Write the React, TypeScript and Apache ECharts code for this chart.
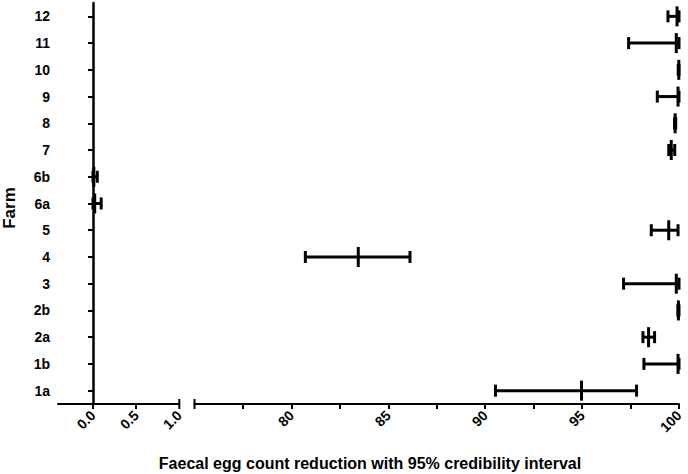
import React, { useEffect, useRef } from "react";
import * as echarts from "echarts";

const farms = ["1a", "1b", "2a", "2b", "3", "4", "5", "6a", "6b", "7", "8", "9", "10", "11", "12"];
const means = [94.97, 99.95, 98.43, 99.97, 99.86, 83.45, 99.47, 0.02, 0.01, 99.6, 99.8, 99.95, 99.99, 99.86, 99.9];
const lows = [90.53, 98.19, 98.14, 99.94, 97.14, 80.72, 98.57, 0.0, 0.0, 99.47, 99.77, 98.88, 99.96, 97.4, 99.43];
const highs = [97.81, 100, 98.74, 100, 100, 86.12, 99.95, 0.095, 0.05, 99.78, 99.83, 100, 100, 100, 100];

const leftTicks = [0, 0.5];
const leftLabels = [0, 0.5, 1];
const rightTicks = [77.5, 80, 82.5, 85, 87.5, 90, 92.5, 95, 97.5, 100];
const rightLabels = [80, 85, 90, 95, 100];

const FONT = "'Liberation Sans', Arial, sans-serif";

export default function App() {
  const ref = useRef<HTMLDivElement>(null);
  useEffect(() => {
    document.body.style.margin = "0";
    const chart = echarts.init(ref.current!, null, { renderer: "svg" });
    const rows = farms.map((_, i) => [i, lows[i], means[i], highs[i]]);
    const leftData = rows.filter((r) => r[3] <= 1);
    const rightData = rows.filter((r) => r[3] > 1);

    const renderItem = (params: any, api: any) => {
      const idx = api.value(0);
      const pL = api.coord([api.value(1), idx]);
      const pM = api.coord([api.value(2), idx]);
      const pH = api.coord([api.value(3), idx]);
      const st = { stroke: "#000", lineWidth: 3 };
      const cap = 6;
      const mt = 10;
      return {
        type: "group",
        children: [
          { type: "line", shape: { x1: pL[0], y1: pL[1], x2: pH[0], y2: pH[1] }, style: st },
          { type: "line", shape: { x1: pL[0], y1: pL[1] - cap, x2: pL[0], y2: pL[1] + cap }, style: st },
          { type: "line", shape: { x1: pH[0], y1: pH[1] - cap, x2: pH[0], y2: pH[1] + cap }, style: st },
          { type: "line", shape: { x1: pM[0], y1: pM[1] - mt, x2: pM[0], y2: pM[1] + mt }, style: st },
        ],
      };
    };

    const axisLabelStyle = { color: "#000", fontFamily: FONT, fontWeight: "bold", fontSize: 14 };
    const top = 3;
    const height = 401;
    const axisY = top + height;

    chart.setOption({
      animation: false,
      grid: [
        { left: 58, width: 121.3, top, height },
        { left: 194.5, width: 484.5, top, height },
      ],
      xAxis: [
        {
          type: "value",
          gridIndex: 0,
          min: -0.405,
          max: 1,
          splitLine: { show: false },
          axisLine: { show: true, lineStyle: { color: "#000", width: 2 } },
          axisTick: { show: true, customValues: leftTicks, length: 5, lineStyle: { color: "#000", width: 2 } },
          axisLabel: {
            ...axisLabelStyle,
            customValues: leftLabels,
            rotate: 45,
            margin: 9,
            formatter: (v: number) => v.toFixed(1),
          },
        },
        {
          type: "value",
          gridIndex: 1,
          min: 75,
          max: 100,
          splitLine: { show: false },
          axisLine: { show: true, lineStyle: { color: "#000", width: 2 } },
          axisTick: { show: true, customValues: rightTicks, length: 5, lineStyle: { color: "#000", width: 2 } },
          axisLabel: {
            ...axisLabelStyle,
            customValues: rightLabels,
            rotate: 45,
            margin: 9,
            formatter: (v: number) => String(v),
          },
        },
      ],
      yAxis: [
        {
          type: "category",
          gridIndex: 0,
          data: farms,
          axisLine: { show: true, lineStyle: { color: "#000", width: 2.5 } },
          axisTick: { show: true, alignWithLabel: true, length: 5, lineStyle: { color: "#000", width: 2 } },
          axisLabel: { ...axisLabelStyle, margin: 8 },
          splitLine: { show: false },
        },
        {
          type: "category",
          gridIndex: 1,
          data: farms,
          show: false,
        },
      ],
      graphic: [
        {
          type: "line",
          shape: { x1: 179.3, y1: axisY - 5, x2: 179.3, y2: axisY + 5 },
          style: { stroke: "#000", lineWidth: 2 },
        },
        {
          type: "line",
          shape: { x1: 194.5, y1: axisY - 5, x2: 194.5, y2: axisY + 5 },
          style: { stroke: "#000", lineWidth: 2 },
        },
        {
          type: "text",
          x: 370,
          y: 463,
          style: {
            text: "Faecal egg count reduction with 95% credibility interval",
            align: "center",
            verticalAlign: "middle",
            fill: "#000",
            font: `bold 16px ${FONT}`,
          },
        },
        {
          type: "text",
          x: 9,
          y: 208,
          rotation: Math.PI / 2,
          style: {
            text: "Farm",
            align: "center",
            verticalAlign: "middle",
            fill: "#000",
            font: `bold 17px ${FONT}`,
          },
        },
      ],
      series: [
        { type: "custom", xAxisIndex: 0, yAxisIndex: 0, renderItem, data: leftData, encode: { x: [1, 2, 3], y: 0 }, clip: false },
        { type: "custom", xAxisIndex: 1, yAxisIndex: 1, renderItem, data: rightData, encode: { x: [1, 2, 3], y: 0 }, clip: false },
      ],
    });
    return () => chart.dispose();
  }, []);
  return <div ref={ref} style={{ width: 688, height: 474 }} />;
}
